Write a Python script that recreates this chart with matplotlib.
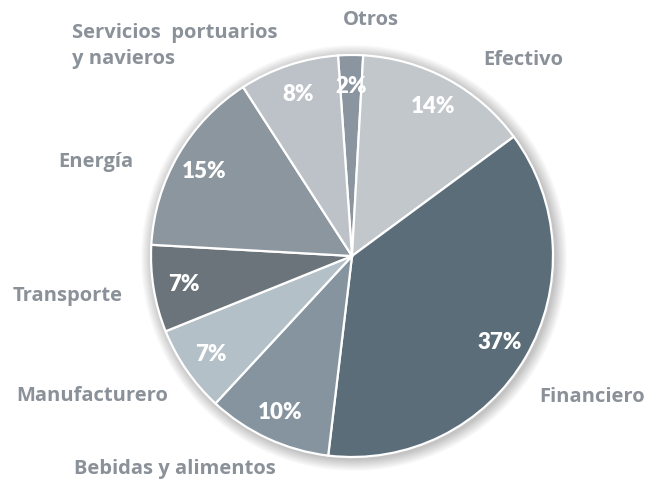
import matplotlib
matplotlib.use("Agg")
import matplotlib.pyplot as plt
from matplotlib.patches import Circle

# datos del reparto
sectores = ["Otros", "Efectivo", "Financiero", "Bebidas y alimentos",
            "Manufacturero", "Transporte", "Energía",
            "Servicios  portuarios\ny navieros"]
porcentajes = [2, 14, 37, 10, 7, 7, 15, 8]
colores = ["#8a959f", "#c2c7cb", "#5b6d79", "#8694a0",
           "#b4c0c7", "#6a747a", "#8c969f", "#bcc2c8"]

fig = plt.figure(figsize=(6.48, 4.85), dpi=100)
ax = fig.add_axes([0, 0, 1, 1])

cx, cy, r = 352, 228, 201

# sombra difusa alrededor del pastel
for i in range(12):
    ax.add_patch(Circle((cx + 2, cy - 2), r + 12 - i, color="#000000",
                        alpha=0.018, lw=0, zorder=0))

wedges, textos, pct = ax.pie(
    porcentajes, colors=colores, startangle=94, counterclock=False,
    center=(cx, cy), radius=r, autopct=lambda p: "%d%%" % round(p),
    pctdistance=0.85, frame=True,
    wedgeprops=dict(edgecolor="white", linewidth=1.6),
    textprops=dict(color="white", fontsize=16, fontweight="heavy",
                   family="Lato"))
ax.set_xlim(0, 648)
ax.set_ylim(0, 485)
ax.axis("off")

# etiquetas de sectores (posiciones en pixeles de la imagen)
pos = {
    "Otros": (371, 20, "center"),
    "Efectivo": (523, 60, "center"),
    "Financiero": (592, 397, "center"),
    "Bebidas y alimentos": (175, 469, "center"),
    "Manufacturero": (92, 396, "center"),
    "Transporte": (68, 296, "center"),
    "Energía": (96, 162, "center"),
    "Servicios  portuarios\ny navieros": (72, 46, "left"),
}
for s in sectores:
    x, y, ha = pos[s]
    ax.text(x, 485 - y, s, ha=ha, va="center", color="#8a9199",
            fontsize=14.5, fontweight="bold", family="Open Sans",
            linespacing=1.4)

fig.savefig("out.png", dpi=100)
